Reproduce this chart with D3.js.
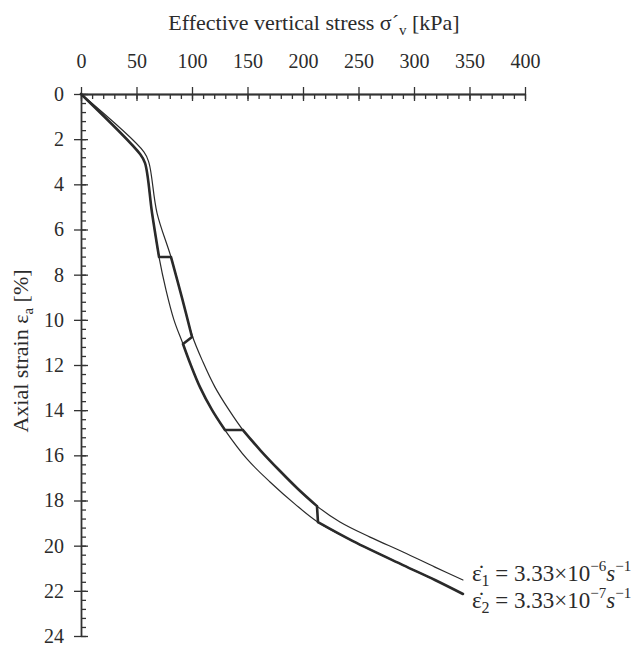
<!DOCTYPE html>
<html lang="en">
<head>
<meta charset="utf-8">
<title>Axial strain vs effective vertical stress</title>
<script src="https://d3js.org/d3.v7.min.js"></script>
<style>
    body { margin: 0; background: #fff; }
    text { font-family: "Liberation Serif", "Times New Roman", serif; fill: #2b2b2b; }
</style>
</head>
<body>
<script>
    var w = 640
    var h = 647

    // axis ticks
    var stressTicks = [0, 50, 100, 150, 200, 250, 300, 350, 400];
    var strainTicks = [0, 2, 4, 6, 8, 10, 12, 14, 16, 18, 20, 22, 24];

    // constant rate eps1 (faster) - thin curve on the right
    var stressRate1 = [0, 56.8, 61.3, 68.5, 81.1, 91.0, 100.0, 109.9, 120.7, 133.3, 145.9, 162.2, 178.4, 195.5, 212.6, 233.3, 260.4, 290.1, 318.9, 344.1];
    var strainRate1 = [0, 2.57, 3.06, 5.27, 7.22, 9.03, 10.67, 11.87, 12.98, 13.99, 14.88, 15.81, 16.65, 17.49, 18.25, 18.95, 19.62, 20.28, 20.95, 21.52];

    // constant rate eps2 (slower) - thin curve on the left
    var stressRate2 = [0, 53.2, 57.7, 64.0, 70.3, 76.6, 83.8, 91.9, 98.2, 107.2, 118.0, 129.7, 149.5, 170.3, 192.8, 213.5, 245.0, 290.1, 318.9, 344.1];
    var strainRate2 = [0, 2.66, 3.06, 5.27, 7.22, 8.68, 10.01, 11.07, 11.91, 12.98, 13.99, 14.88, 16.16, 17.18, 18.16, 18.96, 19.80, 20.86, 21.52, 22.14];

    // step changed rate test - thick line
    var stressStep = [0, 53.2, 57.7, 64.0, 70.3, 81.1, 91.0, 100.0, 91.9, 98.2, 107.2, 118.0, 129.7, 145.9, 162.2, 178.4, 195.5, 212.6, 213.5, 245.0, 290.1, 318.9, 344.1];
    var strainStep = [0, 2.66, 3.06, 5.27, 7.22, 7.22, 9.03, 10.76, 11.07, 11.91, 12.98, 13.99, 14.88, 14.88, 15.81, 16.65, 17.49, 18.25, 18.96, 19.80, 20.86, 21.52, 22.14];
    // index where a rate change (jump) starts in the stepped test
    var stepStarts = [4, 7, 12, 17];

    var svg = d3.select("body")
                .append("svg")
                .attr("width", w)
                .attr("height", h);

    var x = d3.scaleLinear().domain([0, 400]).range([81, 525]);
    var y = d3.scaleLinear().domain([0, 24]).range([94, 636]);

    function styleAxis(g) {
        g.attr("font-family", null).attr("font-size", 20);
        g.selectAll("path, line").attr("stroke", "#333").attr("stroke-width", 1.3);
    }

    // x axis on top
    svg.append("g")
        .attr("transform", "translate(0," + y(0) + ")")
        .call(d3.axisTop(x).tickValues(stressTicks).tickSize(7).tickSizeOuter(0).tickPadding(19))
        .call(styleAxis);
    svg.append("g")
        .attr("transform", "translate(0," + y(0) + ")")
        .call(d3.axisBottom(x).tickValues(stressTicks).tickSize(7).tickSizeOuter(0).tickFormat(""))
        .call(styleAxis);
    svg.append("g")
        .attr("transform", "translate(0," + y(0) + ")")
        .call(d3.axisBottom(x).tickValues(d3.range(0, 401, 10)).tickSize(5).tickSizeOuter(0).tickFormat(""))
        .call(styleAxis);

    // y axis on the left
    svg.append("g")
        .attr("transform", "translate(" + x(0) + ",0)")
        .call(d3.axisLeft(y).tickValues(strainTicks).tickSize(7).tickSizeOuter(0).tickPadding(10))
        .call(styleAxis);
    svg.append("g")
        .attr("transform", "translate(" + x(0) + ",0)")
        .call(d3.axisRight(y).tickValues(strainTicks).tickSize(7).tickSizeOuter(0).tickFormat(""))
        .call(styleAxis);
    svg.append("g")
        .attr("transform", "translate(" + x(0) + ",0)")
        .call(d3.axisRight(y).tickValues(d3.range(0, 24.01, 0.4)).tickSize(5).tickSizeOuter(0).tickFormat(""))
        .call(styleAxis);

    // axis titles
    var xt = svg.append("text")
        .attr("x", 314)
        .attr("y", 30)
        .attr("text-anchor", "middle")
        .attr("font-size", 22)
        .text("Effective vertical stress σ\u00B4");
    xt.append("tspan").attr("dy", 5).attr("font-size", 15).text("v");
    xt.append("tspan").attr("dy", -5).text(" [kPa]");

    var yt = svg.append("text")
        .attr("transform", "translate(28,351) rotate(-90)")
        .attr("text-anchor", "middle")
        .attr("font-size", 22)
        .text("Axial strain ε");
    yt.append("tspan").attr("dy", 5).attr("font-size", 15).text("a");
    yt.append("tspan").attr("dy", -5).text(" [%]");

    // curves
    var line = d3.line()
        .x(function (d) { return x(d[0]); })
        .y(function (d) { return y(d[1]); })
        .curve(d3.curveCatmullRom.alpha(0.5));

    function pts(stress, strain) {
        return stress.map(function (s, i) { return [s, strain[i]]; });
    }

    // split stepped test into smooth runs and straight jumps
    function steppedPath(p, starts) {
        var d = "", from = 0;
        starts.forEach(function (b) {
            d += line(p.slice(from, b + 1));
            d += line(p.slice(b, b + 2));
            from = b + 1;
        });
        d += line(p.slice(from));
        return d;
    }

    var series = [
        { d: line(pts(stressRate1, strainRate1)), width: 1.2 },
        { d: line(pts(stressRate2, strainRate2)), width: 1.2 },
        { d: steppedPath(pts(stressStep, strainStep), stepStarts), width: 2.6 }
    ];

    svg.selectAll("path.curve")
        .data(series)
        .enter()
        .append("path")
        .attr("class", "curve")
        .attr("d", function (d) { return d.d; })
        .attr("fill", "none")
        .attr("stroke", "#2a2a2a")
        .attr("stroke-width", function (d) { return d.width; })
        .attr("stroke-linejoin", "round")
        .attr("stroke-linecap", "round");

    // rate labels
    var labels = [
        { sub: "1", exp: "\u22126", stress: stressRate1, strain: strainRate1, dy: 1 },
        { sub: "2", exp: "\u22127", stress: stressRate2, strain: strainRate2, dy: 14 }
    ];

    labels.forEach(function (l) {
        var n = l.stress.length - 1;
        var t = svg.append("text")
            .attr("x", x(l.stress[n]) + 9)
            .attr("y", y(l.strain[n]) + l.dy)
            .attr("font-size", 23)
            .text("\u03B5\u0307");
        t.append("tspan").attr("dy", 5).attr("font-size", 16).text(l.sub);
        t.append("tspan").attr("dy", -5).text(" = 3.33\u00D710");
        t.append("tspan").attr("dy", -10).attr("font-size", 15).text(l.exp);
        t.append("tspan").attr("dy", 10).attr("font-style", "italic").text("s");
        t.append("tspan").attr("dy", -10).attr("font-size", 15).text("\u22121");
    });
</script>
</body>
</html>
